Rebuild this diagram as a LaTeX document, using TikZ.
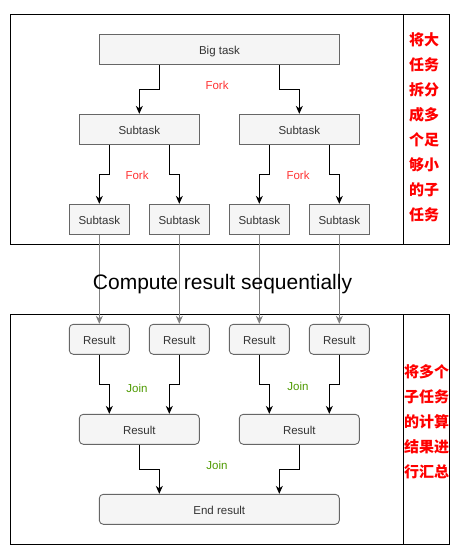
\documentclass[tikz,border=0pt]{standalone}
\usepackage{fontspec}
\setmainfont{Liberation Sans}
\newfontfamily\cjk{Noto Sans CJK SC}
\usetikzlibrary{arrows.meta}
\definecolor{boxfill}{HTML}{F5F5F5}
\definecolor{boxline}{HTML}{666666}
\definecolor{boxtext}{HTML}{333333}
\definecolor{forkred}{HTML}{FF3333}
\definecolor{joingreen}{HTML}{4D9900}
\definecolor{passgray}{HTML}{808080}

\begin{document}
\begin{tikzpicture}[
  x=1pt, y=-1pt,
  task/.style={draw=boxline,fill=boxfill,text=boxtext,line width=0.9pt,inner sep=0pt,minimum height=30pt,text height=11pt,text depth=0pt,font=\fontsize{11.5}{13}\selectfont},
  res/.style={task,rounded corners=4pt},
  arr/.style={line width=1.1pt,-{Stealth[length=8pt,width=7pt,inset=2.5pt]}},
  garr/.style={arr,draw=passgray},
  forklabel/.style={text=forkred,font=\fontsize{11.5}{13}\selectfont},
  joinlabel/.style={text=joingreen,font=\fontsize{11.5}{13}\selectfont},
  note/.style={text=red,align=center,font=\cjk\bfseries\fontsize{15}{25}\selectfont}
]
  \useasboundingbox (0,0) rectangle (461,549);
  % frames
  \draw[line width=1pt] (10,14) rectangle (449,244);
  \draw[line width=1pt] (403,14) -- (403,244);
  \draw[line width=1pt] (10,314) rectangle (449,544);
  \draw[line width=1pt] (403,314) -- (403,544);

  % fork part
  \node[task,minimum width=240pt] (big) at (219.5,49.3) {Big task};
  \node[task,minimum width=120pt] (sl) at (139.3,129.3) {Subtask};
  \node[task,minimum width=120pt] (sr) at (299.3,129.3) {Subtask};
  \node[task,minimum width=60pt] (s1) at (99.3,219.3) {Subtask};
  \node[task,minimum width=60pt] (s2) at (179.3,219.3) {Subtask};
  \node[task,minimum width=60pt] (s3) at (259.3,219.3) {Subtask};
  \node[task,minimum width=60pt] (s4) at (339.3,219.3) {Subtask};
  \node[forklabel] (f0) at (217,85) {Fork};
  \node[forklabel] (f1) at (137,175) {Fork};
  \node[forklabel] (f2) at (298,175) {Fork};
  \draw[arr] ([xshift=-60pt]big.south) -- ++(0,25) -| (sl.north);
  \draw[arr] ([xshift=60pt]big.south) -- ++(0,25) -| (sr.north);
  \draw[arr] ([xshift=-30pt]sl.south) -- ++(0,30) -| (s1.north);
  \draw[arr] ([xshift=30pt]sl.south) -- ++(0,30) -| (s2.north);
  \draw[arr] ([xshift=-30pt]sr.south) -- ++(0,30) -| (s3.north);
  \draw[arr] ([xshift=30pt]sr.south) -- ++(0,30) -| (s4.north);

  % join part
  \node[res,minimum width=60pt] (r1) at (99.3,339.3) {Result};
  \node[res,minimum width=60pt] (r2) at (179.3,339.3) {Result};
  \node[res,minimum width=60pt] (r3) at (259.3,339.3) {Result};
  \node[res,minimum width=60pt] (r4) at (339.3,339.3) {Result};
  \node[res,minimum width=120pt] (rl) at (139.3,429.3) {Result};
  \node[res,minimum width=120pt] (rr) at (299.3,429.3) {Result};
  \node[res,minimum width=240pt] (end) at (219.3,509.3) {End result};
  \node[joinlabel] (j1) at (137,388) {Join};
  \node[joinlabel] (j2) at (298,386) {Join};
  \node[joinlabel] (j0) at (217,465) {Join};
  \draw[arr] (r1.south) -- ++(0,30) -| ([xshift=-30pt]rl.north);
  \draw[arr] (r2.south) -- ++(0,30) -| ([xshift=30pt]rl.north);
  \draw[arr] (r3.south) -- ++(0,30) -| ([xshift=-30pt]rr.north);
  \draw[arr] (r4.south) -- ++(0,30) -| ([xshift=30pt]rr.north);
  \draw[arr] (rl.south) -- ++(0,25) -| ([xshift=-60pt]end.north);
  \draw[arr] (rr.south) -- ++(0,25) -| ([xshift=60pt]end.north);

  % sequential step
  \draw[garr] (s1.south) -- (r1.north);
  \draw[garr] (s2.south) -- (r2.north);
  \draw[garr] (s3.south) -- (r3.north);
  \draw[garr] (s4.south) -- (r4.north);
  \node[font=\fontsize{21}{24}\selectfont] (seq) at (222.5,284) {Compute result sequentially};

  % side notes
  \node[note] (n1) at (424,127.5) {将大\\任务\\拆分\\成多\\个足\\够小\\的子\\任务};
  \node[note] (n2) at (426.5,421.7) {将多个\\子任务\\的计算\\结果进\\行汇总};
\end{tikzpicture}
\end{document}
